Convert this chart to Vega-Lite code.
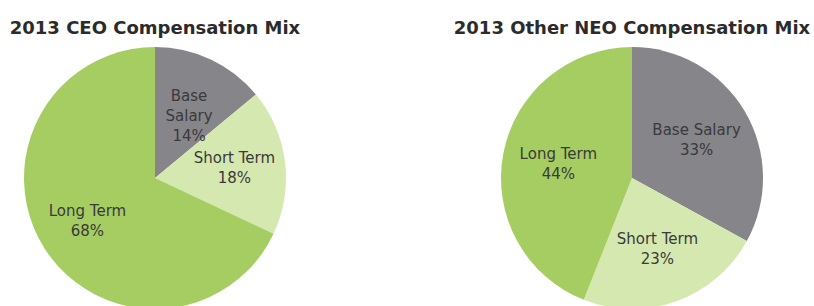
{
  "$schema": "https://vega.github.io/schema/vega-lite/v6.json",
  "padding": {"top": 20, "left": 0, "right": 0, "bottom": 0},
  "background": "white",
  "data": {
    "values": [
      {"chart": "CEO", "category": "Base Salary", "label": "Base\nSalary\n14%", "value": 14, "rank": 1},
      {"chart": "CEO", "category": "Short Term", "label": "Short Term\n18%", "value": 18, "rank": 2},
      {"chart": "CEO", "category": "Long Term", "label": "Long Term\n68%", "value": 68, "rank": 3},
      {"chart": "NEO", "category": "Base Salary", "label": "Base Salary\n33%", "value": 33, "rank": 1},
      {"chart": "NEO", "category": "Short Term", "label": "Short Term\n23%", "value": 23, "rank": 2},
      {"chart": "NEO", "category": "Long Term", "label": "Long Term\n44%", "value": 44, "rank": 3}
    ]
  },
  "config": {
    "view": {"stroke": null},
    "concat": {"spacing": 167},
    "font": "DejaVu Sans",
    "title": {"fontSize": 18, "fontWeight": "bold", "color": "#2b2b2b", "anchor": "middle", "baseline": "alphabetic", "offset": 9, "frame": "group", "font": "DejaVu Sans"}
  },
  "bounds": "flush",
  "hconcat": [
    {
      "title": "2013 CEO Compensation Mix",
      "width": 310,
      "height": 256,
      "transform": [{"filter": "datum.chart === 'CEO'"}],
      "encoding": {
        "theta": {"field": "value", "type": "quantitative", "stack": true},
        "order": {"field": "rank", "type": "quantitative"}
      },
      "layer": [
        {
          "mark": {"type": "arc", "outerRadius": 131, "strokeWidth": 0},
          "encoding": {
            "color": {"field": "category", "type": "nominal", "legend": null,
              "scale": {"domain": ["Base Salary", "Short Term", "Long Term"], "range": ["#85858a", "#d4e8b0", "#a5cd62"]}}
          }
        },
        {
          "mark": {"type": "text", "radius": 80, "dy": -10, "fontSize": 15, "color": "#3a3a3a", "lineBreak": "\n", "lineHeight": 20, "align": "center", "baseline": "middle"},
          "encoding": {"text": {"field": "label"}}
        }
      ]
    },
    {
      "title": "2013 Other NEO Compensation Mix",
      "width": 310,
      "height": 256,
      "transform": [{"filter": "datum.chart === 'NEO'"}],
      "encoding": {
        "theta": {"field": "value", "type": "quantitative", "stack": true},
        "order": {"field": "rank", "type": "quantitative"}
      },
      "layer": [
        {
          "mark": {"type": "arc", "outerRadius": 131, "strokeWidth": 0},
          "encoding": {
            "color": {"field": "category", "type": "nominal", "legend": null,
              "scale": {"domain": ["Base Salary", "Short Term", "Long Term"], "range": ["#85858a", "#d4e8b0", "#a5cd62"]}}
          }
        },
        {
          "mark": {"type": "text", "radius": 75, "dy": -10, "fontSize": 15, "color": "#3a3a3a", "lineBreak": "\n", "lineHeight": 20, "align": "center", "baseline": "middle"},
          "encoding": {"text": {"field": "label"}}
        }
      ]
    }
  ]
}
